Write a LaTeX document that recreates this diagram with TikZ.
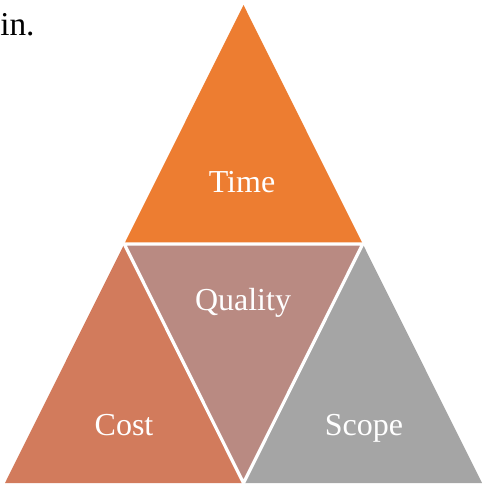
\documentclass[tikz,border=0pt]{standalone}
\usepackage{fontspec}
\setmainfont{Liberation Serif}
\usepackage{xcolor}
\usetikzlibrary{positioning}
\definecolor{timecol}{RGB}{237,125,49}
\definecolor{costcol}{RGB}{210,123,92}
\definecolor{qualitycol}{RGB}{185,138,130}
\definecolor{scopecol}{RGB}{165,165,165}

\begin{document}
\begin{tikzpicture}[x=0.75pt,y=-0.75pt,
    gap/.style={draw=white, line width=2.4pt, line join=miter},
    partname/.style={text=white, font=\fontsize{24}{28}\selectfont, inner sep=0pt, anchor=base},]
            \useasboundingbox (0,0) rectangle (483,488);
            %Corners
            \coordinate (apex) at (243.5,5);
            \coordinate (baseleft) at (5,483);
            \coordinate (baseright) at (482,483);
            \coordinate (midleft) at (124.25,244);
            \coordinate (midright) at (362.75,244);
            \coordinate (basemid) at (243.5,483);

            %Parts
            \fill[timecol] (apex) -- (midleft) -- (midright) -- cycle;
            \fill[costcol] (midleft) -- (baseleft) -- (basemid) -- cycle;
            \fill[qualitycol] (midleft) -- (midright) -- (basemid) -- cycle;
            \fill[scopecol] (midright) -- (basemid) -- (baseright) -- cycle;
            \draw[gap] (midleft) -- (midright) -- (basemid) -- cycle;

            %Texts
            \node[anchor=base west, font=\fontsize{25}{28}\selectfont, inner sep=0pt](intext) at (0,36){in.};
            \node[partname](time) at (242,193){Time};
            \node[partname](quality) at (243,310){Quality};
            \node[partname](cost) at (124,435){Cost};
            \node[partname](scope) at (364,435){Scope};
        \end{tikzpicture}
\end{document}
